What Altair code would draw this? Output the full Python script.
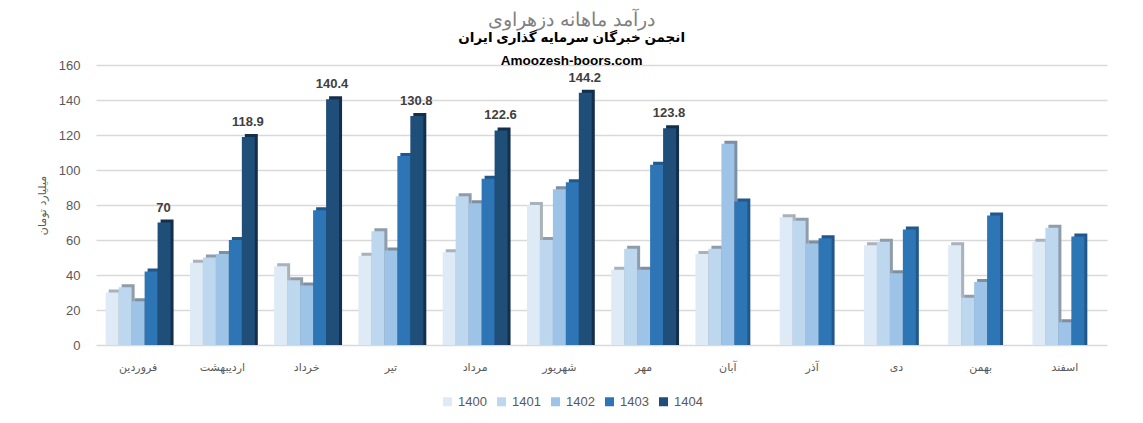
import altair as alt
import pandas as pd

months = ["فروردین", "اردیبهشت", "خرداد", "تیر", "مرداد", "شهریور",
          "مهر", "آبان", "آذر", "دی", "بهمن", "اسفند"]
years = ["1400", "1401", "1402", "1403", "1404"]
v1400 = [30, 47, 45, 51, 53, 80, 43, 52, 73, 57, 57, 59]
v1401 = [33, 50, 37, 65, 85, 60, 55, 55, 71, 59, 27, 67]
v1402 = [25, 52, 34, 54, 81, 89, 43, 115, 58, 41, 36, 13]
v1403 = [42, 60, 77, 108, 95, 93, 103, 82, 61, 66, 74, 62]
v1404 = [70, 118.9, 140.4, 130.8, 122.6, 144.2, 123.8]
colors = ["#DEEBF7", "#BDD7EE", "#9DC3E6", "#2E75B6", "#1F4E79"]
side_colors = ["#A9B1BA", "#8F9CAA", "#7E8FA1", "#22578C", "#132F4C"]
y_ticks = [0, 20, 40, 60, 80, 100, 120, 140, 160]

series = [v1400, v1401, v1402, v1403, v1404]
rows = []
for yr, vals in zip(years, series):
    for m, v in zip(months, vals):
        rows.append({"month": m, "year": yr, "value": v})
df = pd.DataFrame(rows)

W, H = 1011, 280
P_IN, P_OUT = 0.23, 0.115
step = W / (len(months) - P_IN + 2 * P_OUT)
bw = step * (1 - P_IN)
depth_px = 3
depth_val = depth_px * 160 / H

x_enc = alt.X("month:N", sort=months,
              scale=alt.Scale(paddingInner=P_IN, paddingOuter=P_OUT),
              axis=alt.Axis(title=None, labelAngle=0, domain=False, ticks=False,
                            labelPadding=16, labelFont="DejaVu Sans",
                            labelFontSize=11, labelColor="#595959"))
y_axis = alt.Axis(values=y_ticks, title="میلیارد تومان", titleFont="DejaVu Sans",
                  titleFontSize=11, titleFontWeight="normal", titleColor="#595959",
                  titlePadding=11, labelFont="Liberation Sans", labelFontSize=13,
                  labelColor="#595959", labelPadding=16, domain=False, ticks=False,
                  gridColor="#D9D9D9", gridWidth=1.5)
y_scale = alt.Scale(domain=[0, 160], nice=False)
y_enc = alt.Y("value:Q", scale=y_scale, axis=y_axis, title="میلیارد تومان")

shadow = alt.Chart(df).transform_calculate(
    top=alt.datum.value + depth_val
).mark_bar().encode(
    x=x_enc,
    xOffset=alt.XOffset("year:N", sort=years,
                        scale=alt.Scale(domain=years, paddingInner=0, paddingOuter=0,
                                        range=[depth_px, bw + depth_px])),
    y=alt.Y("top:Q", scale=y_scale, axis=y_axis, title="میلیارد تومان"),
    y2=alt.datum(0),
    fill=alt.Fill("year:N", sort=years,
                  scale=alt.Scale(domain=years, range=side_colors), legend=None),
)

xo_front = alt.XOffset("year:N", sort=years,
                       scale=alt.Scale(domain=years, paddingInner=0, paddingOuter=0,
                                       range=[0, bw]))

bars = alt.Chart(df).mark_bar().encode(
    x=x_enc, xOffset=xo_front, y=y_enc,
    color=alt.Color("year:N", sort=years,
                    scale=alt.Scale(domain=years, range=colors),
                    legend=alt.Legend(title=None, orient="none", direction="horizontal",
                                      legendX=345, legendY=330, symbolType="square",
                                      symbolSize=81, symbolStrokeWidth=0,
                                      labelFont="Liberation Sans", labelFontSize=13,
                                      labelColor="#595959", columnPadding=8,
                                      labelOffset=4)),
)

labels = alt.Chart(df).transform_filter(alt.datum.year == "1404").mark_text(
    baseline="bottom", dy=-8, dx=-7, font="Liberation Sans", fontSize=13,
    fontWeight="bold", color="#404040"
).encode(x=x_enc, xOffset=xo_front, y=y_enc, text=alt.Text("value:Q"))

chart = alt.layer(shadow, bars, labels).resolve_scale(
    xOffset="independent", color="independent"
).properties(
    width=W, height=H,
    background="white",
    autosize=alt.AutoSizeParams(type="none"),
    padding={"left": 88, "top": 57, "right": 20, "bottom": 75},
    title=alt.TitleParams(
        text="درآمد ماهانه دزهراوی",
        subtitle=["انجمن خبرگان سرمایه گذاری ایران", "Amoozesh-boors.com"],
        anchor="middle", frame="bounds", font="DejaVu Sans", fontSize=19,
        fontWeight=300, color="#808080",
        subtitleFont="Liberation Sans, DejaVu Sans", subtitleFontSize=13.5,
        subtitleFontWeight="bold", subtitleColor="#000000",
        subtitlePadding=1, subtitleLineHeight=23, offset=-8),
).configure_view(strokeWidth=0, stroke="transparent")

chart.save("out.html", embed_options={"renderer": "svg", "actions": False})
